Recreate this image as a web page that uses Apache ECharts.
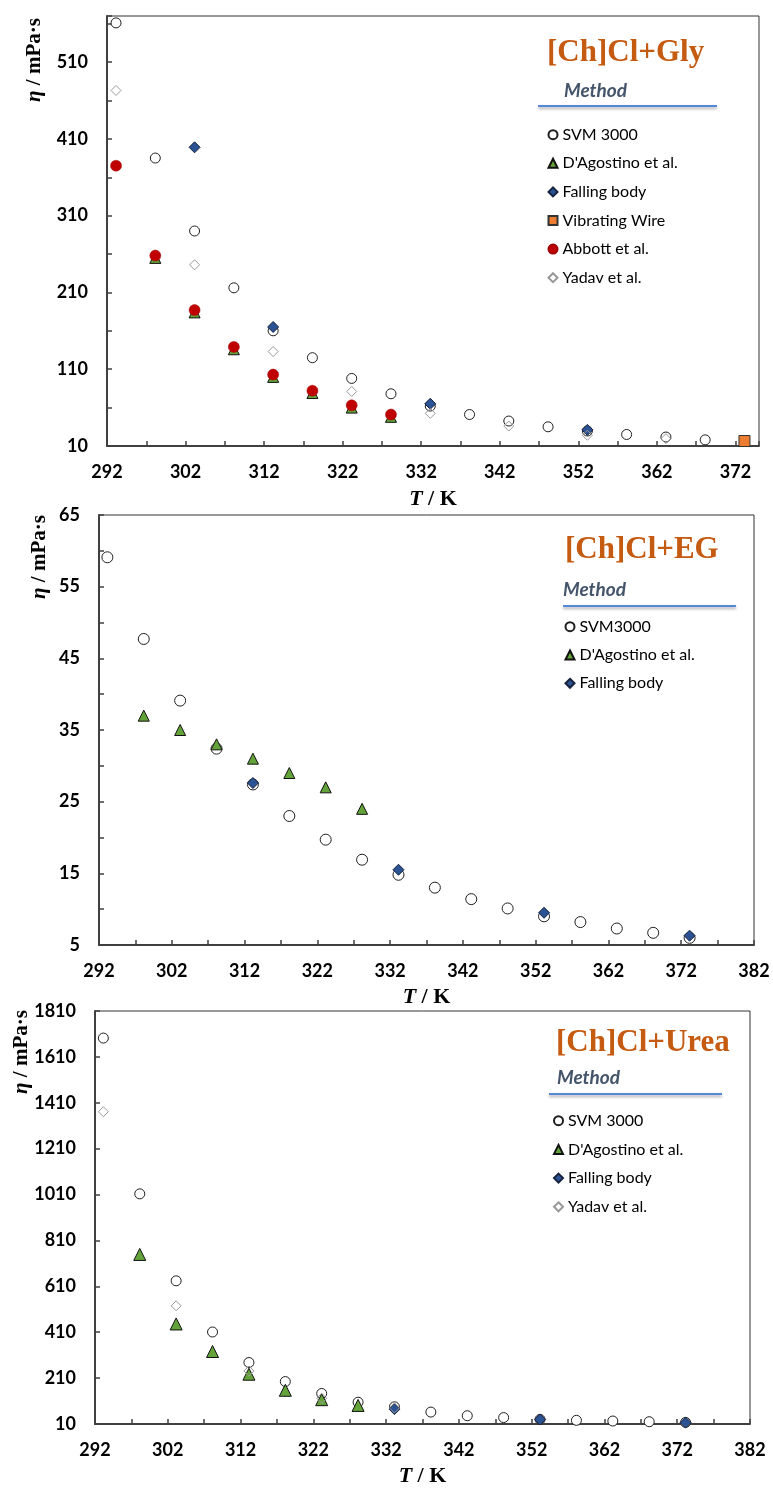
<!DOCTYPE html>
<html>
<head>
<meta charset="utf-8">
<script src="https://cdn.jsdelivr.net/npm/echarts@6/dist/echarts.min.js"></script>
<style>
  html, body { margin: 0; padding: 0; background: #fff; }
  #chart { width: 773px; height: 1488px; }
</style>
</head>
<body>
<div id="chart"></div>
<script>
// ---------- DATA ----------
// Panel 1: [Ch]Cl+Gly
const T_gly_svm = [293.15, 298.15, 303.15, 308.15, 313.15, 318.15, 323.15, 328.15, 333.15, 338.15, 343.15, 348.15, 353.15, 358.15, 363.15, 368.15];
const gly_svm   = [561, 385, 290, 216, 160, 125, 98, 78, 62, 51, 42.5, 35, 29.5, 25, 21.7, 18];
const T_gly_dag = [298.15, 303.15, 308.15, 313.15, 318.15, 323.15, 328.15];
const gly_dag   = [255, 184, 136, 100, 79, 60, 48];
const T_gly_fb  = [303.15, 313.15, 333.15, 353.15];
const gly_fb    = [399, 165, 65, 31];
const T_gly_vw  = [373.15];
const gly_vw    = [16.5];
const T_gly_abb = [293.15, 298.15, 303.15, 308.15, 313.15, 318.15, 323.15, 328.15];
const gly_abb   = [375, 258, 187, 139, 103, 82, 63, 51];
const T_gly_yad = [293.15, 303.15, 313.15, 323.15, 333.15, 343.15, 353.15, 363.15];
const gly_yad   = [473, 246, 133, 81, 52.5, 36, 24, 19.5];

// Panel 2: [Ch]Cl+EG
const T_eg_svm = [293.15, 298.15, 303.15, 308.15, 313.15, 318.15, 323.15, 328.15, 333.15, 338.15, 343.15, 348.15, 353.15, 358.15, 363.15, 368.15, 373.15];
const eg_svm   = [59.1, 47.7, 39.1, 32.4, 27.4, 23.0, 19.7, 16.9, 14.8, 13.0, 11.4, 10.1, 9.0, 8.2, 7.3, 6.7, 6.0];
const T_eg_dag = [298.15, 303.15, 308.15, 313.15, 318.15, 323.15, 328.15];
const eg_dag   = [37.0, 35.0, 33.0, 31.0, 29.0, 27.0, 24.0];
const T_eg_fb  = [313.15, 333.15, 353.15, 373.15];
const eg_fb    = [27.6, 15.5, 9.5, 6.3];

// Panel 3: [Ch]Cl+Urea
const T_urea_svm = [293.15, 298.15, 303.15, 308.15, 313.15, 318.15, 323.15, 328.15, 333.15, 338.15, 343.15, 348.15, 353.15, 358.15, 363.15, 368.15, 373.15];
const urea_svm   = [1692, 1013, 634, 411, 278, 195, 143, 105, 85, 62, 46, 38, 30, 26, 23, 20, 17];
const T_urea_dag = [298.15, 303.15, 308.15, 313.15, 318.15, 323.15, 328.15];
const urea_dag   = [749, 446, 326, 227, 157, 116, 91];
const T_urea_fb  = [333.15, 353.15, 373.15];
const urea_fb    = [75, 30, 16];
const T_urea_yad = [293.15, 303.15, 313.15, 323.15, 333.15];
const urea_yad   = [1371, 525, 241, 122, 80];

// Titles / legend labels
const panelTitles = ['[Ch]Cl+Gly', '[Ch]Cl+EG', '[Ch]Cl+Urea'];
const legend1 = ['SVM 3000', "D'Agostino et al.", 'Falling body', 'Vibrating Wire', 'Abbott et al.', 'Yadav et al.'];
const legend2 = ['SVM3000', "D'Agostino et al.", 'Falling body'];
const legend3 = ['SVM 3000', "D'Agostino et al.", 'Falling body', 'Yadav et al.'];

// ---------- BUILD ----------
const pairs = (xs, ys) => xs.map((x, i) => [x, ys[i]]);

const styles = {
  svm:  { symbol: 'circle',   itemStyle: { color: '#ffffff', borderColor: '#1f1f1f', borderWidth: 1, opacity: 1 } },
  dag:  { symbol: 'triangle', itemStyle: { color: '#63A33A', borderColor: '#111111', borderWidth: 1, opacity: 1 } },
  fb:   { symbol: 'diamond',  itemStyle: { color: '#2B5394', borderColor: '#16223d', borderWidth: 1, opacity: 1 } },
  vw:   { symbol: 'rect',     itemStyle: { color: '#ED7D31', borderColor: '#333333', borderWidth: 1, opacity: 1 } },
  abb:  { symbol: 'circle',   itemStyle: { color: '#C00000', borderColor: '#a00000', borderWidth: 0.5, opacity: 1 } },
  yad:  { symbol: 'diamond',  itemStyle: { color: 'rgba(255,255,255,0)', borderColor: '#999999', borderWidth: 1, opacity: 1 } }
};

function ser(name, kind, data, idx, size) {
  return Object.assign({
    type: 'scatter', name: name, data: data,
    xAxisIndex: idx, yAxisIndex: idx,
    symbolSize: size,
    emphasis: { disabled: true },
    animation: false
  }, JSON.parse(JSON.stringify(styles[kind])));
}

const labelFont = { fontFamily: 'Lato', fontWeight: 'bold', fontSize: 18, color: '#000' };
const serif = 'Liberation Serif';

function xAx(idx, min, max, name, nameGap) {
  return {
    type: 'value', gridIndex: idx, min: min, max: max, interval: 5,
    name: name, nameLocation: 'middle', nameGap: nameGap,
    nameTextStyle: {
      fontFamily: serif, fontWeight: 'bold', fontSize: 22, color: '#000',
      rich: { i: { fontFamily: serif, fontWeight: 'bold', fontStyle: 'italic', fontSize: 22, color: '#000' },
              n: { fontFamily: serif, fontWeight: 'bold', fontSize: 22, color: '#000' } }
    },
    axisLine: { show: true, onZero: false, lineStyle: { color: '#404040', width: 2 } },
    axisTick: { show: true, inside: true, length: 5, lineStyle: { color: '#404040', width: 1.5 } },
    splitLine: { show: false },
    axisLabel: Object.assign({ margin: 17, showMaxLabel: true,
      formatter: v => (Math.round(v - min) % 10 === 0 ? String(v) : '') }, labelFont)
  };
}
function yAx(idx, min, max, step, labelStep) {
  return {
    type: 'value', gridIndex: idx, min: min, max: max, interval: step,
    axisLine: { show: true, onZero: false, lineStyle: { color: '#404040', width: 2 } },
    axisTick: { show: true, inside: true, length: 5, lineStyle: { color: '#404040', width: 1.5 } },
    splitLine: { show: false },
    axisLabel: Object.assign({ margin: 19,
      formatter: v => (Math.round(v - min) % labelStep === 0 ? String(v) : '') }, labelFont)
  };
}

const titleStyle = { fontFamily: serif, fontWeight: 'bold', fontSize: 31, color: '#C55A11' };
const methodStyle = { fontFamily: 'Lato', fontWeight: 'bold', fontStyle: 'italic', fontSize: 19, color: '#44546A' };
const legendText = { fontFamily: 'Lato', fontSize: 16, color: '#000', lineHeight: 16 };

function yName(x, y) {
  return {
    type: 'text', x: x, y: y, rotation: Math.PI / 2, silent: true,
    style: {
      text: '{i|η} / mPa·s',
      align: 'center', verticalAlign: 'middle',
      font: 'bold 21px "Liberation Serif"', fill: '#000',
      rich: { i: { fontFamily: serif, fontWeight: 'bold', fontStyle: 'italic', fontSize: 21, fill: '#000' } }
    }
  };
}
function uline(x1, x2, y) {
  return {
    type: 'line', silent: true,
    shape: { x1: x1, y1: y, x2: x2, y2: y },
    style: { stroke: '#5588D8', lineWidth: 2, shadowColor: 'rgba(0,0,0,0.35)', shadowBlur: 3, shadowOffsetY: 2 }
  };
}

const xName = '{i|T}{n| / K}';

const option = {
  backgroundColor: '#fff',
  animation: false,
  title: [
    { text: panelTitles[0], left: 547, top: 37, padding: 0, textStyle: titleStyle },
    { text: 'Method', left: 564, top: 81, padding: 0, textStyle: methodStyle },
    { text: panelTitles[1], left: 565, top: 534, padding: 0, textStyle: titleStyle },
    { text: 'Method', left: 563, top: 580, padding: 0, textStyle: methodStyle },
    { text: panelTitles[2], left: 556, top: 1027, padding: 0, textStyle: titleStyle },
    { text: 'Method', left: 557, top: 1068, padding: 0, textStyle: methodStyle }
  ],
  legend: [
    { data: legend1, orient: 'vertical', left: 547.5, top: 126.7, padding: 0, itemWidth: 9, itemHeight: 9, itemGap: 12.6, textStyle: legendText },
    { data: legend2, orient: 'vertical', left: 564.5, top: 618.7, padding: 0, itemWidth: 9, itemHeight: 9, itemGap: 12.3, textStyle: legendText },
    { data: legend3, orient: 'vertical', left: 553, top: 1112.7, padding: 0, itemWidth: 9, itemHeight: 9, itemGap: 12.7, textStyle: legendText }
  ],
  grid: [
    { left: 107, top: 16, width: 652, height: 430, show: true, borderColor: '#333', borderWidth: 1, containLabel: false },
    { left: 99, top: 515, width: 655, height: 430, show: true, borderColor: '#333', borderWidth: 1, containLabel: false },
    { left: 95, top: 1011, width: 655, height: 416, show: true, borderColor: '#333', borderWidth: 1, containLabel: false }
  ],
  xAxis: [
    xAx(0, 292, 375, xName, 42),
    xAx(1, 292, 382, xName, 41),
    xAx(2, 292, 382, xName, 41)
  ],
  yAxis: [
    yAx(0, 10, 570, 50, 100),
    yAx(1, 5, 65, 5, 10),
    yAx(2, 10, 1810, 200, 200)
  ],
  graphic: [
    yName(35, 60), yName(40, 557), yName(22, 1052),
    uline(538, 717, 106), uline(563, 736, 606), uline(549, 722, 1094)
  ],
  series: [
    ser(legend1[0], 'svm', pairs(T_gly_svm, gly_svm), 0, 10),
    ser(legend1[1], 'dag', pairs(T_gly_dag, gly_dag), 0, 11),
    ser(legend1[2], 'fb',  pairs(T_gly_fb, gly_fb), 0, 11),
    ser(legend1[3], 'vw',  pairs(T_gly_vw, gly_vw), 0, 11),
    ser(legend1[4], 'abb', pairs(T_gly_abb, gly_abb), 0, 11),
    ser(legend1[5], 'yad', pairs(T_gly_yad, gly_yad), 0, 10),

    ser(legend2[0], 'svm', pairs(T_eg_svm, eg_svm), 1, 11),
    ser(legend2[1], 'dag', pairs(T_eg_dag, eg_dag), 1, 11),
    ser(legend2[2], 'fb',  pairs(T_eg_fb, eg_fb), 1, 11),

    ser(legend3[0], 'svm', pairs(T_urea_svm, urea_svm), 2, 10),
    ser(legend3[1], 'dag', pairs(T_urea_dag, urea_dag), 2, 12),
    ser(legend3[2], 'fb',  pairs(T_urea_fb, urea_fb), 2, 11),
    ser(legend3[3], 'yad', pairs(T_urea_yad, urea_yad), 2, 10)
  ]
};

const chart = echarts.init(document.getElementById('chart'), null, { renderer: 'canvas' });
chart.setOption(option);
</script>
</body>
</html>
